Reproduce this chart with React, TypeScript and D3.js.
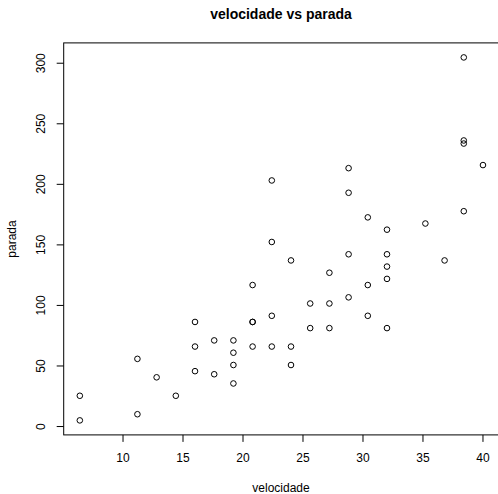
import React from "react";
import * as d3 from "d3";

const velocidade = [6.4,6.4,11.2,11.2,12.8,14.4,16,16,16,17.6,17.6,19.2,19.2,19.2,19.2,20.8,20.8,20.8,20.8,22.4,22.4,22.4,22.4,24,24,24,25.6,25.6,27.2,27.2,27.2,28.8,28.8,28.8,28.8,30.4,30.4,30.4,32,32,32,32,32,35.2,36.8,38.4,38.4,38.4,38.4,40];
const parada = [5.08,25.4,10.16,55.88,40.64,25.4,45.72,66.04,86.36,43.18,71.12,35.56,50.8,60.96,71.12,66.04,86.36,86.36,116.84,66.04,91.44,152.4,203.2,50.8,66.04,137.16,81.28,101.6,81.28,101.6,127,106.68,142.24,193.04,213.36,91.44,116.84,172.72,81.28,121.92,132.08,142.24,162.56,167.64,137.16,177.8,233.68,236.22,304.8,215.9];
const xTicks = [10, 15, 20, 25, 30, 35, 40];
const yTicks = [0, 50, 100, 150, 200, 250, 300];

export default function App() {
  const W = 498, H = 494;
  const left = 63.7, right = 499.1, top = 42.9, bottom = 434.9;
  const x = d3.scaleLinear().domain([5.056, 41.344]).range([left, right]);
  const y = d3.scaleLinear().domain([-6.91, 316.79]).range([bottom, top]);
  const font = "Liberation Sans, Arial, Helvetica, sans-serif";
  return (
    <svg width={W} height={H} style={{ position: "absolute", left: 0, top: 0, background: "#fff" }}>
      <rect x={0} y={0} width={W} height={H} fill="#fff" />
      <text x={281} y={19} textAnchor="middle" fontFamily={font} fontWeight="bold" fontSize={14}>velocidade vs parada</text>
      <rect x={left} y={top} width={right - left} height={bottom - top} fill="none" stroke="#000" strokeWidth={1} />
      {xTicks.map(t => (
        <g key={"x" + t}>
          <line x1={x(t)} x2={x(t)} y1={bottom} y2={bottom + 7} stroke="#000" />
          <text x={x(t)} y={462} textAnchor="middle" fontFamily={font} fontSize={12}>{t}</text>
        </g>
      ))}
      {yTicks.map(t => (
        <g key={"y" + t}>
          <line x1={left - 7} x2={left} y1={y(t)} y2={y(t)} stroke="#000" />
          <text transform={`translate(45,${y(t)}) rotate(-90)`} textAnchor="middle" fontFamily={font} fontSize={12}>{t}</text>
        </g>
      ))}
      <text x={281} y={492} textAnchor="middle" fontFamily={font} fontSize={12}>velocidade</text>
      <text transform={`translate(16,239) rotate(-90)`} textAnchor="middle" fontFamily={font} fontSize={12}>parada</text>
      {velocidade.map((v, i) => (
        <circle key={i} cx={x(v)} cy={y(parada[i])} r={2.8} fill="none" stroke="#000" strokeWidth={1} />
      ))}
    </svg>
  );
}
